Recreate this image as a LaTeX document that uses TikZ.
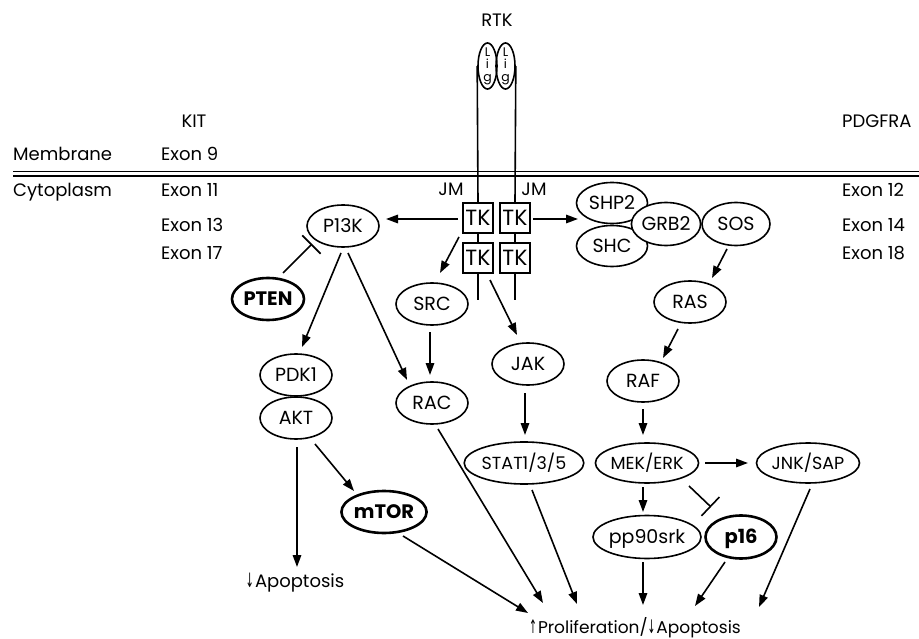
\documentclass[tikz,border=0pt]{standalone}
\usepackage{fontspec}
\usepackage{graphicx}
\setmainfont{Poppins}[Numbers=Monospaced]
\newfontfamily\symfont{DejaVu Sans}
\usetikzlibrary{shapes.geometric,arrows.meta}
\newcommand{\upar}{{\symfont\scalebox{0.55}[1.1]{↑}}\hspace{1pt}}
\newcommand{\dnar}{{\symfont\scalebox{0.55}[1.1]{↓}}\hspace{1pt}}
\begin{document}
\begin{tikzpicture}[x=1pt,y=-1pt,
  every node/.style={font=\fontsize{18}{19}\selectfont},
  ov/.style={ellipse,draw,line width=1.6pt,fill=white,inner sep=0pt,
    minimum width=72pt,minimum height=42pt,text height=13pt,text depth=0pt,
    font=\fontsize{19}{19}\selectfont},
  ovs/.style={ov,font=\fontsize{17.5}{19}\selectfont},
  ovb/.style={ov,line width=2.6pt,font=\fontsize{19.5}{19}\selectfont\bfseries},
  tkbox/.style={draw,line width=1.6pt,fill=white,minimum size=30pt,inner sep=0pt,
    text height=15pt,text depth=0pt,font=\fontsize{22}{22}\selectfont},
  lig/.style={ellipse,draw,line width=1.6pt,inner sep=0pt,minimum width=19pt,minimum height=46pt},
  ligtxt/.style={align=center,inner sep=0pt,font=\fontsize{12.5}{12.5}\selectfont},
  lbl/.style={anchor=base west,inner sep=0pt},
  lblc/.style={anchor=base,inner sep=0pt},
  ln/.style={line width=1.6pt},
  arr/.style={line width=1.6pt,-{Triangle[length=12pt,width=8.5pt]}},
  inh/.style={line width=1.6pt,-{Bar[width=26pt,line width=1.6pt]}}]
\useasboundingbox (0,0) rectangle (919,639);

% membrane
\draw[ln] (13,171.5) -- (919,171.5);
\draw[ln] (13,176) -- (919,176);

% labels
\node[lblc] (rtk) at (497,27) {RTK};
\node[lblc] (kit) at (194,128) {KIT};
\node[lbl] (pdgfra) at (842,128) {PDGFRA};
\node[lbl] (membrane) at (13,161) {Membrane};
\node[lbl] (cyto) at (13,197) {Cytoplasm};
\node[lbl] (ex9) at (161,161) {Exon 9};
\node[lbl] (ex11) at (161,197) {Exon 11};
\node[lbl] (ex13) at (161,232) {Exon 13};
\node[lbl] (ex17) at (161,260) {Exon 17};
\node[lbl] (ex12) at (842,197) {Exon 12};
\node[lbl] (ex14) at (842,232) {Exon 14};
\node[lbl] (ex18) at (842,260) {Exon 18};
\node[lblc] (jm1) at (451,196) {JM};
\node[lblc] (jm2) at (534,196) {JM};

% receptor
\node[lig] (lig1) at (487.5,66) {};
\node[lig] (lig2) at (505.5,66) {};
\node[ligtxt] at (487.5,66) {L\\i\\g};
\node[ligtxt] at (505.5,66) {L\\i\\g};
\node[tkbox] (tk1) at (478,218) {TK};
\node[tkbox] (tk2) at (515,218) {TK};
\node[tkbox] (tk3) at (478,258) {TK};
\node[tkbox] (tk4) at (515,258) {TK};
\coordinate (endL) at (478,300);
\coordinate (endR) at (515,300);
\draw[ln] (lig1.west) -- (tk1.north);
\draw[ln] (tk1.south) -- (tk3.north);
\draw[ln] (tk3.south) -- (endL);
\draw[ln] (lig2.east) -- (tk2.north);
\draw[ln] (tk2.south) -- (tk4.north);
\draw[ln] (tk4.south) -- (endR);

% nodes
\node[ov] (p13k) at (343,226) {P13K};
\node[ovb] (pten) at (268,299) {PTEN};
\node[ov] (pdk1) at (296,375) {PDK1};
\node[ov] (akt) at (296,418) {AKT};
\node[ovb,minimum width=78pt] (mtor) at (384,512) {mTOR};
\node[ov] (src) at (432,304) {SRC};
\node[ov] (rac) at (432,403) {RAC};
\node[ov] (jak) at (528,364) {JAK};
\node[ovs,minimum width=96pt] (stat) at (524,463) {STAT1/3/5};
\node[ov,minimum width=71pt,minimum height=41pt] (shp2) at (612,203) {SHP2};
\node[ov,minimum width=71pt,minimum height=41pt] (shc) at (612,246) {SHC};
\node[ov,minimum width=69pt,minimum height=43pt] (grb2) at (666,224) {GRB2};
\node[ov,minimum width=68pt,minimum height=43pt] (sos) at (736,224) {SOS};
\node[ov] (ras) at (690,302) {RAS};
\node[ov] (raf) at (643,381) {RAF};
\node[ovs,minimum width=103pt,minimum height=40pt] (mek) at (647,463) {MEK/ERK};
\node[ovs,minimum width=103pt,minimum height=40pt] (jnk) at (808,463) {JNK/SAP};
\node[ov,minimum width=103pt,minimum height=43pt] (pp90) at (647,537) {pp90srk};
\node[ovb,minimum width=71pt,minimum height=43pt] (p16) at (741,537) {p16};

\node[inner sep=0pt,text height=12pt,text depth=0pt] (apop) at (295,581) {\dnar Apoptosis};
\node[inner sep=0pt,text height=12pt,text depth=0pt,font=\fontsize{17}{19}\selectfont] (prolif) at (635,627) {\upar Proliferation/\dnar Apoptosis};

% connectors
\draw[arr] ([shift={(-20,1)}]tk1.center) -- ([shift={(43,-7)}]p13k.center);
\draw[arr] ([shift={(18,1)}]tk2.center) -- ([shift={(-34,16)}]shp2.center);
\draw[arr] ([shift={(-19,19)}]tk1.center) -- ([shift={(8,-31)}]src.center);
\draw[arr] ([shift={(12,22)}]tk3.center) -- ([shift={(-11,-29)}]jak.center);
\draw[arr] ([shift={(-2,28)}]src.center) -- ([shift={(-2,-28)}]rac.center);
\draw[arr] ([shift={(-2,27)}]p13k.center) -- ([shift={(6,-28)}]pdk1.center);
\draw[arr] ([shift={(5,27)}]p13k.center) -- ([shift={(-25,-23)}]rac.center);
\draw[inh] ([shift={(15,-26)}]pten.center) -- ([shift={(-31,18)}]p13k.center);
\draw[arr] ([shift={(1,29)}]akt.center) -- ([shift={(2,-14)}]apop.center);
\draw[arr] ([shift={(19,26)}]akt.center) -- ([shift={(-30,-21)}]mtor.center);
\draw[arr] ([shift={(6,26)}]rac.center) -- ([shift={(-92,-24)}]prolif.center);
\draw[arr] ([shift={(19,24)}]mtor.center) -- ([shift={(-107,-14)}]prolif.center);
\draw[arr] ([shift={(-3,29)}]jak.center) -- ([shift={(1,-28)}]stat.center);
\draw[arr] ([shift={(8,27)}]stat.center) -- ([shift={(-58,-23)}]prolif.center);
\draw[arr] ([shift={(-9,25)}]sos.center) -- ([shift={(22,-24)}]ras.center);
\draw[arr] ([shift={(-12,27)}]ras.center) -- ([shift={(20,-23)}]raf.center);
\draw[arr] ([shift={(0,28)}]raf.center) -- ([shift={(-4,-28)}]mek.center);
\draw[arr] ([shift={(58,0)}]mek.center) -- ([shift={(-60,0)}]jnk.center);
\draw[arr] ([shift={(-4,24)}]mek.center) -- ([shift={(-4,-25)}]pp90.center);
\draw[inh] ([shift={(42,23)}]mek.center) -- ([shift={(-30,-30)}]p16.center);
\draw[arr] ([shift={(-4,25)}]pp90.center) -- ([shift={(8,-22)}]prolif.center);
\draw[arr] ([shift={(-16,25)}]p16.center) -- ([shift={(60,-21)}]prolif.center);
\draw[arr] ([shift={(2,26)}]jnk.center) -- ([shift={(124,-20)}]prolif.center);
\end{tikzpicture}
\end{document}
